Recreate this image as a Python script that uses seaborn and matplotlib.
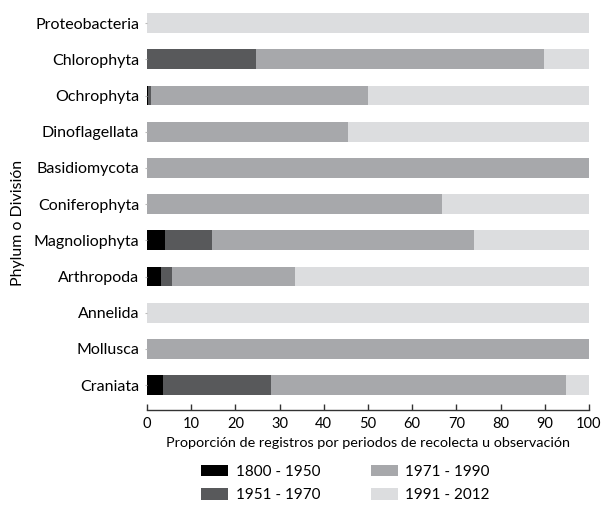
import numpy as np
import matplotlib
matplotlib.use("Agg")
import matplotlib.pyplot as plt
import seaborn as sns
import pandas as pd
from matplotlib.patches import Patch

# Data (percent of records per period)
phyla = ["Proteobacteria", "Chlorophyta", "Ochrophyta", "Dinoflagellata",
         "Basidiomycota", "Coniferophyta", "Magnoliophyta", "Arthropoda",
         "Annelida", "Mollusca", "Craniata"]
periods = ["1800 - 1950", "1951 - 1970", "1971 - 1990", "1991 - 2012"]
p1800_1950 = [0, 0, 0.2, 0, 0, 0, 4.1, 3.2, 0, 0, 3.6]
p1951_1970 = [0, 24.7, 0.6, 0, 0, 0, 10.6, 2.5, 0, 0, 24.4]
p1971_1990 = [0, 65.1, 49.2, 45.5, 100, 66.7, 59.3, 27.8, 0, 100, 66.8]
p1991_2012 = [100, 10.2, 50.0, 54.5, 0, 33.3, 26.0, 66.5, 100, 0, 5.2]
colors = ["#000000", "#58595b", "#a7a8ab", "#dcdddf"]

df = pd.DataFrame({"phylum": phyla, periods[0]: p1800_1950, periods[1]: p1951_1970,
                   periods[2]: p1971_1990, periods[3]: p1991_2012})
cum = df[periods].cumsum(axis=1)

plt.rcParams["font.family"] = ["Lato", "DejaVu Sans"]
fig = plt.figure(figsize=(6.01, 5.05), dpi=100)
ax = fig.add_axes([0.2446, 0.188, 0.7354, 0.802])

# draw cumulative totals back to front so they stack
for per, col in reversed(list(zip(periods, colors))):
    sns.barplot(x=cum[per], y=df["phylum"], orient="h", color=col,
                saturation=1, width=0.55, ax=ax)

ax.set_xlim(0, 100)
ax.set_ylim(10.69, -0.5)
ax.set_xticks(np.arange(0, 101, 10))
for s in ["top", "right", "left"]:
    ax.spines[s].set_visible(False)
ax.spines["bottom"].set_color("#333333")
ax.spines["bottom"].set_linewidth(1.0)
ax.tick_params(axis="x", direction="in", length=4, width=1, color="#333333",
               labelsize=10.5, pad=5)
ax.tick_params(axis="y", length=1.5, width=0.8, color="#bbbbbb", labelsize=11.5, pad=4)
ax.set_xlabel("Proporción de registros por periodos de recolecta u observación",
              fontsize=10.4, labelpad=4)
ax.set_ylabel("")
fig.text(18 / 601, 1 - 223 / 505, "Phylum o División", rotation=90,
         ha="center", va="center", fontsize=11.4)

handles = [Patch(facecolor=c, edgecolor="none") for c in colors]
fig.legend(handles, periods, ncol=2, loc="center", bbox_to_anchor=(0.575, 0.042),
           frameon=False, fontsize=11, handlelength=1.75, handleheight=0.75,
           handletextpad=0.5, columnspacing=3.3, labelspacing=0.6,
           borderpad=0.2)

fig.savefig("out.png", dpi=100)
